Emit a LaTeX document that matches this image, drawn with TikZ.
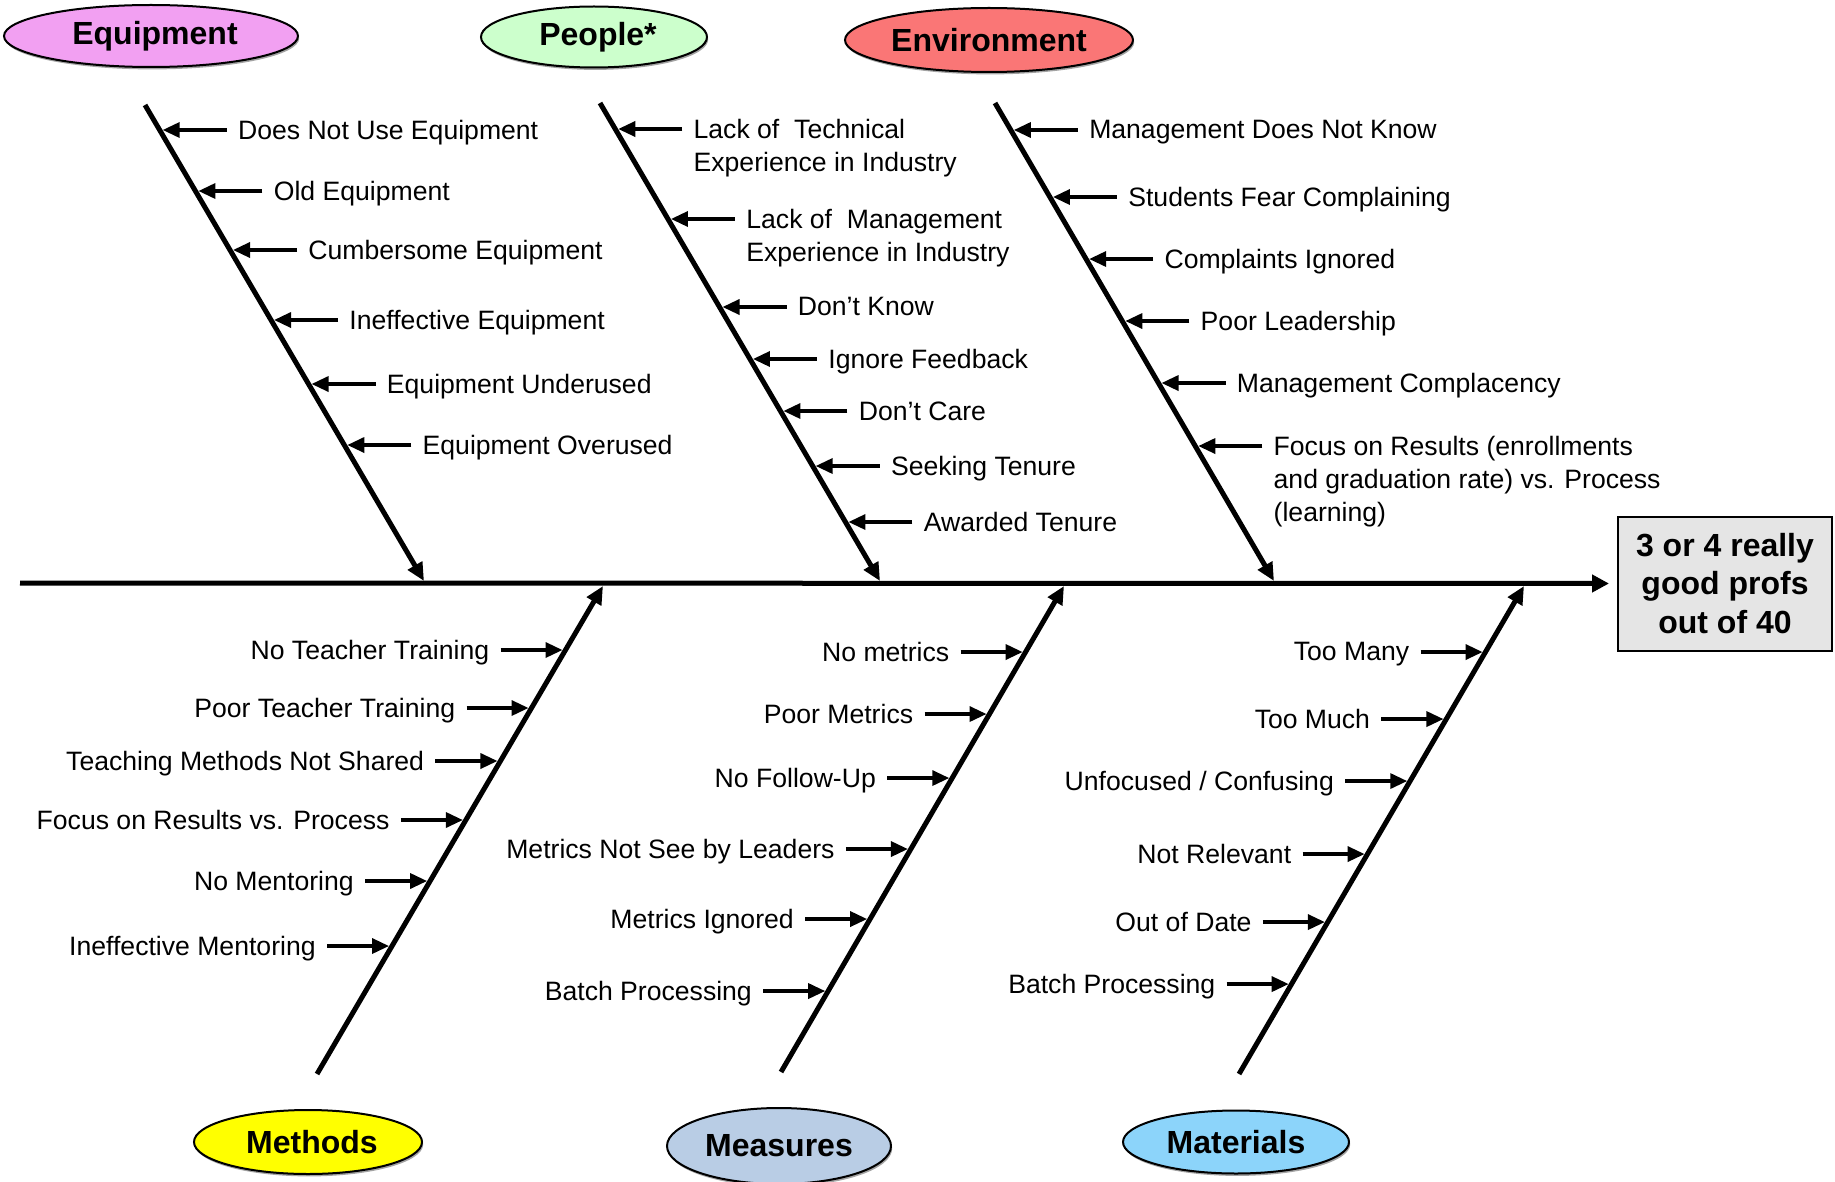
\documentclass[tikz,border=0pt]{standalone}
\usepackage{fontspec}
\setmainfont{Liberation Sans}
\usetikzlibrary{arrows.meta,calc,shapes.geometric,shadows}

\definecolor{eqpink}{RGB}{242,160,242}
\definecolor{ppgreen}{RGB}{204,255,204}
\definecolor{enred}{RGB}{250,118,118}
\definecolor{meyellow}{RGB}{255,255,0}
\definecolor{msblue}{RGB}{185,205,229}
\definecolor{mablue}{RGB}{140,212,250}

\begin{document}
\begin{tikzpicture}[x=0.5pt,y=-0.5pt]

\tikzset{
    spine/.style={line width=2.5pt,-{Triangle[length=8.5pt,width=8.5pt]},shorten >=4pt},
    bone/.style={line width=2.5pt,-{Triangle[length=9pt,width=8pt]}},
    cause/.style={line width=1.7pt,-{Triangle[length=8.5pt,width=7.5pt]},shorten >=1.5pt,shorten <=5.5pt},
    upcause/.style={inner sep=0pt,align=left,anchor=north west,xshift=39pt,yshift=4.9pt,
        font=\fontsize{13.3}{16.4}\selectfont},
    lowcause/.style={inner sep=0pt,align=right,anchor=north east,xshift=-38pt,yshift=4.9pt,
        font=\fontsize{13.3}{16.4}\selectfont},
    cat/.style={ellipse,draw,line width=1pt,fill=#1,inner sep=0pt,
        drop shadow={shadow xshift=0.6pt,shadow yshift=-1.2pt,fill=black!60,opacity=0.6},
        font=\fontsize{16}{19}\selectfont\bfseries},
    effect/.style={rectangle,draw,line width=1pt,fill=gray!20,align=center,
        minimum width=107pt,minimum height=67pt,
        font=\fontsize{16}{19.3}\selectfont\bfseries}}

\useasboundingbox (0,0) rectangle (1835,1182);

\coordinate (tail) at (20,583);
\node[effect] (fx) at (1725,583.5) {3 or 4 really\\good profs\\out of 40};
\draw[spine] (tail) -- (fx.west);

\coordinate (eqT) at (145,105);
\coordinate (eqB) at (424,581);
\coordinate (ppT) at (600,103);
\coordinate (ppB) at (880,581);
\coordinate (enT) at (995,103);
\coordinate (enB) at (1274,581);
\coordinate (meB) at (317,1074);
\coordinate (meT) at (603,586);
\coordinate (msB) at (781,1072);
\coordinate (msT) at (1064,586);
\coordinate (maB) at (1239,1074);
\coordinate (maT) at (1524,586);

\draw[bone] (eqT) -- (eqB);
\draw[bone] (ppT) -- (ppB);
\draw[bone] (enT) -- (enB);
\draw[bone] (meB) -- (meT);
\draw[bone] (msB) -- (msT);
\draw[bone] (maB) -- (maT);

\node[cat=eqpink, minimum width=147pt, minimum height=31pt] (eqcat) at (151,36) {\hspace{4pt}Equipment};
\node[cat=ppgreen, minimum width=113pt, minimum height=30.5pt] (ppcat) at (594,37) {\hspace{4pt}People*};
\node[cat=enred, minimum width=144pt, minimum height=32pt] (encat) at (989,40) {Environment};
\node[cat=meyellow, minimum width=114pt, minimum height=32pt] (mecat) at (308,1142) {\hspace{4pt}Methods};
\node[cat=msblue, minimum width=112pt, minimum height=38pt] (mscat) at (779,1146) {Measures};
\node[cat=mablue, minimum width=113pt, minimum height=31.5pt] (macat) at (1236,1142) {Materials};

\coordinate (e1) at (intersection of eqT--eqB and 0,130--10,130);
\node[upcause] (te1) at (e1) {Does Not Use Equipment};
\draw[cause] (te1.north west |- e1) -- (e1);
\coordinate (e2) at (intersection of eqT--eqB and 0,191--10,191);
\node[upcause] (te2) at (e2) {Old Equipment};
\draw[cause] (te2.north west |- e2) -- (e2);
\coordinate (e3) at (intersection of eqT--eqB and 0,250--10,250);
\node[upcause] (te3) at (e3) {Cumbersome Equipment};
\draw[cause] (te3.north west |- e3) -- (e3);
\coordinate (e4) at (intersection of eqT--eqB and 0,320--10,320);
\node[upcause] (te4) at (e4) {Ineffective Equipment};
\draw[cause] (te4.north west |- e4) -- (e4);
\coordinate (e5) at (intersection of eqT--eqB and 0,384--10,384);
\node[upcause] (te5) at (e5) {Equipment Underused};
\draw[cause] (te5.north west |- e5) -- (e5);
\coordinate (e6) at (intersection of eqT--eqB and 0,445--10,445);
\node[upcause] (te6) at (e6) {Equipment Overused};
\draw[cause] (te6.north west |- e6) -- (e6);

\coordinate (p1) at (intersection of ppT--ppB and 0,129--10,129);
\node[upcause] (tp1) at (p1) {Lack of\ \ Technical\\Experience in Industry};
\draw[cause] (tp1.north west |- p1) -- (p1);
\coordinate (p2) at (intersection of ppT--ppB and 0,219--10,219);
\node[upcause] (tp2) at (p2) {Lack of\ \ Management\\Experience in Industry};
\draw[cause] (tp2.north west |- p2) -- (p2);
\coordinate (p3) at (intersection of ppT--ppB and 0,307--10,307);
\node[upcause] (tp3) at (p3) {Don’t Know};
\draw[cause] (tp3.north west |- p3) -- (p3);
\coordinate (p4) at (intersection of ppT--ppB and 0,359--10,359);
\node[upcause] (tp4) at (p4) {Ignore Feedback};
\draw[cause] (tp4.north west |- p4) -- (p4);
\coordinate (p5) at (intersection of ppT--ppB and 0,411--10,411);
\node[upcause] (tp5) at (p5) {Don’t Care};
\draw[cause] (tp5.north west |- p5) -- (p5);
\coordinate (p6) at (intersection of ppT--ppB and 0,466--10,466);
\node[upcause] (tp6) at (p6) {Seeking Tenure};
\draw[cause] (tp6.north west |- p6) -- (p6);
\coordinate (p7) at (intersection of ppT--ppB and 0,522--10,522);
\node[upcause] (tp7) at (p7) {Awarded Tenure};
\draw[cause] (tp7.north west |- p7) -- (p7);

\coordinate (n1) at (intersection of enT--enB and 0,130--10,130);
\node[upcause] (tn1) at (n1) {Management Does Not Know};
\draw[cause] (tn1.north west |- n1) -- (n1);
\coordinate (n2) at (intersection of enT--enB and 0,197--10,197);
\node[upcause] (tn2) at (n2) {Students Fear Complaining};
\draw[cause] (tn2.north west |- n2) -- (n2);
\coordinate (n3) at (intersection of enT--enB and 0,259--10,259);
\node[upcause] (tn3) at (n3) {Complaints Ignored};
\draw[cause] (tn3.north west |- n3) -- (n3);
\coordinate (n4) at (intersection of enT--enB and 0,321--10,321);
\node[upcause] (tn4) at (n4) {Poor Leadership};
\draw[cause] (tn4.north west |- n4) -- (n4);
\coordinate (n5) at (intersection of enT--enB and 0,383--10,383);
\node[upcause] (tn5) at (n5) {Management Complacency};
\draw[cause] (tn5.north west |- n5) -- (n5);
\coordinate (n6) at (intersection of enT--enB and 0,446--10,446);
\node[upcause] (tn6) at (n6) {Focus on Results (enrollments\\and graduation rate) vs. Process\\(learning)};
\draw[cause] (tn6.north west |- n6) -- (n6);

\coordinate (m1) at (intersection of meB--meT and 0,650--10,650);
\node[lowcause] (tm1) at (m1) {No Teacher Training};
\draw[cause] (tm1.north east |- m1) -- (m1);
\coordinate (m2) at (intersection of meB--meT and 0,708--10,708);
\node[lowcause] (tm2) at (m2) {Poor Teacher Training};
\draw[cause] (tm2.north east |- m2) -- (m2);
\coordinate (m3) at (intersection of meB--meT and 0,761--10,761);
\node[lowcause] (tm3) at (m3) {Teaching Methods Not Shared};
\draw[cause] (tm3.north east |- m3) -- (m3);
\coordinate (m4) at (intersection of meB--meT and 0,820--10,820);
\node[lowcause] (tm4) at (m4) {Focus on Results vs. Process};
\draw[cause] (tm4.north east |- m4) -- (m4);
\coordinate (m5) at (intersection of meB--meT and 0,881--10,881);
\node[lowcause] (tm5) at (m5) {No Mentoring};
\draw[cause] (tm5.north east |- m5) -- (m5);
\coordinate (m6) at (intersection of meB--meT and 0,946--10,946);
\node[lowcause] (tm6) at (m6) {Ineffective Mentoring};
\draw[cause] (tm6.north east |- m6) -- (m6);

\coordinate (s1) at (intersection of msB--msT and 0,652--10,652);
\node[lowcause] (ts1) at (s1) {No metrics};
\draw[cause] (ts1.north east |- s1) -- (s1);
\coordinate (s2) at (intersection of msB--msT and 0,714--10,714);
\node[lowcause] (ts2) at (s2) {Poor Metrics};
\draw[cause] (ts2.north east |- s2) -- (s2);
\coordinate (s3) at (intersection of msB--msT and 0,778--10,778);
\node[lowcause] (ts3) at (s3) {No Follow-Up};
\draw[cause] (ts3.north east |- s3) -- (s3);
\coordinate (s4) at (intersection of msB--msT and 0,849--10,849);
\node[lowcause] (ts4) at (s4) {Metrics Not See by Leaders};
\draw[cause] (ts4.north east |- s4) -- (s4);
\coordinate (s5) at (intersection of msB--msT and 0,919--10,919);
\node[lowcause] (ts5) at (s5) {Metrics Ignored};
\draw[cause] (ts5.north east |- s5) -- (s5);
\coordinate (s6) at (intersection of msB--msT and 0,991--10,991);
\node[lowcause] (ts6) at (s6) {Batch Processing};
\draw[cause] (ts6.north east |- s6) -- (s6);

\coordinate (a1) at (intersection of maB--maT and 0,652--10,652);
\node[lowcause] (ta1) at (a1) {Too Many};
\draw[cause] (ta1.north east |- a1) -- (a1);
\coordinate (a2) at (intersection of maB--maT and 0,719--10,719);
\node[lowcause] (ta2) at (a2) {Too Much};
\draw[cause] (ta2.north east |- a2) -- (a2);
\coordinate (a3) at (intersection of maB--maT and 0,781--10,781);
\node[lowcause] (ta3) at (a3) {Unfocused / Confusing};
\draw[cause] (ta3.north east |- a3) -- (a3);
\coordinate (a4) at (intersection of maB--maT and 0,854--10,854);
\node[lowcause] (ta4) at (a4) {Not Relevant};
\draw[cause] (ta4.north east |- a4) -- (a4);
\coordinate (a5) at (intersection of maB--maT and 0,922--10,922);
\node[lowcause] (ta5) at (a5) {Out of Date};
\draw[cause] (ta5.north east |- a5) -- (a5);
\coordinate (a6) at (intersection of maB--maT and 0,984--10,984);
\node[lowcause] (ta6) at (a6) {Batch Processing};
\draw[cause] (ta6.north east |- a6) -- (a6);

\end{tikzpicture}
\end{document}
